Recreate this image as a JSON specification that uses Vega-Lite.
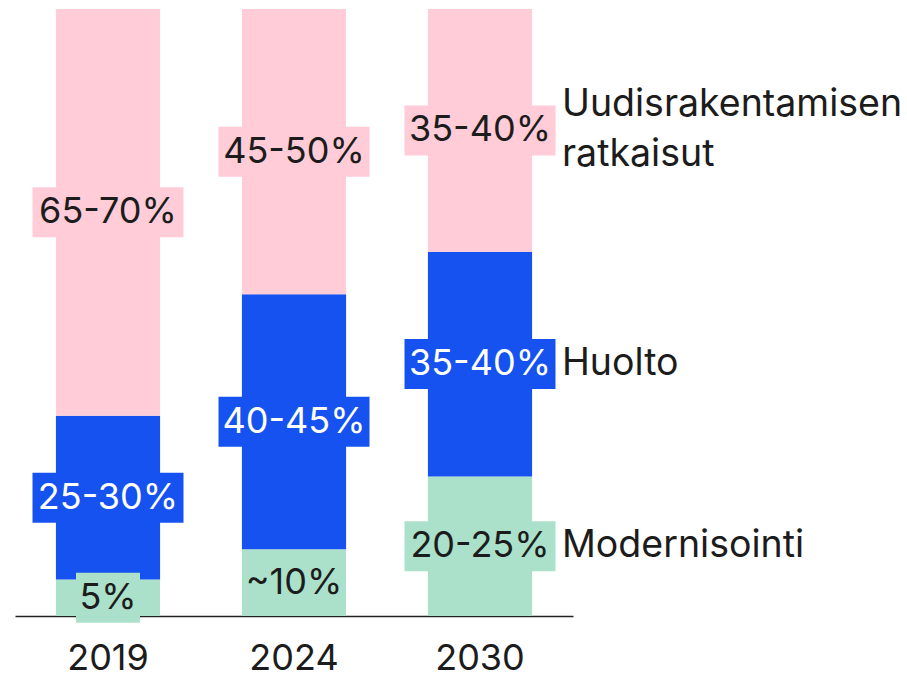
{
  "$schema": "https://vega.github.io/schema/vega-lite/v6.json",
  "width": 558,
  "height": 607,
  "autosize": {"type": "none"},
  "padding": {"left": 15, "top": 9, "right": 334, "bottom": 61},
  "background": "white",
  "config": {"view": {"stroke": null}, "font": "Inter"},
  "data": {
    "values": [
      {"year": "2019", "series": "Modernisointi", "order": 1, "value": 6, "label": "5%"},
      {"year": "2019", "series": "Huolto", "order": 2, "value": 27, "label": "25-30%"},
      {"year": "2019", "series": "Uudisrakentamisen ratkaisut", "order": 3, "value": 67, "label": "65-70%"},
      {"year": "2024", "series": "Modernisointi", "order": 1, "value": 11, "label": "~10%"},
      {"year": "2024", "series": "Huolto", "order": 2, "value": 42, "label": "40-45%"},
      {"year": "2024", "series": "Uudisrakentamisen ratkaisut", "order": 3, "value": 47, "label": "45-50%"},
      {"year": "2030", "series": "Modernisointi", "order": 1, "value": 23, "label": "20-25%"},
      {"year": "2030", "series": "Huolto", "order": 2, "value": 37, "label": "35-40%"},
      {"year": "2030", "series": "Uudisrakentamisen ratkaisut", "order": 3, "value": 40, "label": "35-40%"}
    ]
  },
  "transform": [
    {"stack": "value", "groupby": ["year"], "sort": [{"field": "order"}], "as": ["y0", "y1"]},
    {"calculate": "(datum.y0 + datum.y1) / 2", "as": "mid"},
    {"calculate": "split(datum.series, ' ')", "as": "serieslines"}
  ],
  "encoding": {
    "x": {
      "field": "year",
      "type": "nominal",
      "scale": {"paddingInner": 0.44, "paddingOuter": 0.22},
      "axis": {
        "title": null,
        "labelAngle": 0,
        "labelFontSize": 36,
        "labelColor": "#1c1c1c",
        "labelPadding": 25,
        "ticks": false,
        "domainColor": "#222222",
        "domainWidth": 1.5,
        "zindex": 0
      }
    }
  },
  "layer": [
    {
      "mark": {"type": "bar"},
      "encoding": {
        "y": {"field": "y0", "type": "quantitative", "scale": {"domain": [0, 100], "nice": false}, "axis": null},
        "y2": {"field": "y1"},
        "color": {
          "field": "series",
          "type": "nominal",
          "scale": {
            "domain": ["Modernisointi", "Huolto", "Uudisrakentamisen ratkaisut"],
            "range": ["#abe1ca", "#1652f0", "#ffccd7"]
          },
          "legend": null
        }
      }
    },
    {
      "mark": {"type": "tick", "thickness": 50, "opacity": 1},
      "encoding": {
        "y": {"field": "mid", "type": "quantitative", "scale": {"domain": [0, 100], "nice": false}, "axis": null},
        "color": {"field": "series", "type": "nominal", "legend": null},
        "size": {
          "field": "label",
          "type": "nominal",
          "scale": {
            "type": "ordinal",
            "domain": ["5%", "~10%", "25-30%", "65-70%", "40-45%", "45-50%", "20-25%", "35-40%"],
            "range": [64, 104, 151, 151, 151, 151, 151, 151]
          },
          "legend": null
        }
      }
    },
    {
      "mark": {"type": "text", "fontSize": 36, "baseline": "middle", "align": "center"},
      "encoding": {
        "y": {"field": "mid", "type": "quantitative"},
        "text": {"field": "label"},
        "color": {
          "condition": {"test": "datum.series === 'Huolto'", "value": "#ffffff"},
          "value": "#1c1c1c"
        }
      }
    },
    {
      "transform": [{"filter": "datum.year === '2030' && datum.order < 3"}],
      "mark": {"type": "text", "fontSize": 37.5, "baseline": "middle", "align": "left", "dx": 82, "color": "#1c1c1c"},
      "encoding": {
        "y": {"field": "mid", "type": "quantitative"},
        "text": {"field": "series"}
      }
    },
    {
      "transform": [{"filter": "datum.year === '2030' && datum.order === 3"}],
      "mark": {"type": "text", "fontSize": 37.5, "baseline": "middle", "align": "left", "dx": 82, "dy": -25, "lineHeight": 50, "color": "#1c1c1c"},
      "encoding": {
        "y": {"field": "mid", "type": "quantitative"},
        "text": {"field": "serieslines"}
      }
    }
  ]
}
